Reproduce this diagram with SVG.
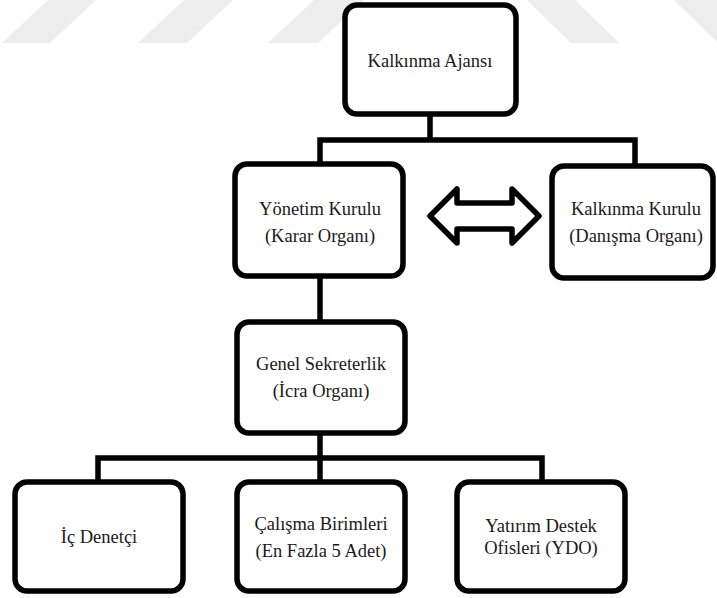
<svg xmlns="http://www.w3.org/2000/svg" width="717" height="598" viewBox="0 0 717 598">
<style>
.wm{fill:#ededed;stroke:none}
.box{fill:#fff;stroke:#000;stroke-width:5.5}
.con{fill:none;stroke:#000;stroke-width:5.5;stroke-linejoin:miter}
.t{font-family:"Liberation Serif","Times New Roman",serif;font-size:18.5px;fill:#1a1a1a;text-anchor:middle}
</style>
<rect width="717" height="598" fill="#fff"/>
<g id="watermark">
<polygon class="wm" points="2,43 50,43 96,0 48,0"/>
<polygon class="wm" points="138,43 187,43 233,0 184,0"/>
<polygon class="wm" points="268,43 318,43 364,0 314,0"/>
<polygon class="wm" points="527,0 575,0 619,43 571,43"/>
<polygon class="wm" points="674,0 722,0 766,43 718,43"/>
</g>
<g id="connectors">
<path class="con" d="M430,114 V140 M320,164 V140 H635 V166"/>
<path class="con" d="M320,276 V322"/>
<path class="con" d="M320,433 V482 M98,482 V458 H542 V482"/>
<polygon class="box" stroke-linejoin="round" points="430,216 457,189 457,203 512,203 512,189 539,216 512,243 512,229 457,229 457,243"/>
</g>
<g id="kalkinma-ajansi">
<rect class="box" x="345" y="5" width="171" height="109" rx="12"/>
<text class="t" x="430" y="67">Kalkınma Ajansı</text>
</g>
<g id="yonetim-kurulu">
<rect class="box" x="235" y="164" width="168" height="112" rx="12"/>
<text class="t" x="320" y="215">Yönetim Kurulu</text>
<text class="t" x="320" y="242">(Karar Organı)</text>
</g>
<g id="kalkinma-kurulu">
<rect class="box" x="552" y="166" width="161" height="112" rx="12"/>
<text class="t" x="636" y="215">Kalkınma Kurulu</text>
<text class="t" x="636" y="242">(Danışma Organı)</text>
</g>
<g id="genel-sekreterlik">
<rect class="box" x="237" y="322" width="168" height="111" rx="12"/>
<text class="t" x="321" y="370">Genel Sekreterlik</text>
<text class="t" x="321" y="397">(İcra Organı)</text>
</g>
<g id="ic-denetci">
<rect class="box" x="15" y="482" width="168" height="109" rx="12"/>
<text class="t" x="99" y="543">İç Denetçi</text>
</g>
<g id="calisma-birimleri">
<rect class="box" x="237" y="482" width="168" height="109" rx="12"/>
<text class="t" x="321" y="530">Çalışma Birimleri</text>
<text class="t" x="321" y="557">(En Fazla 5 Adet)</text>
</g>
<g id="yatirim-destek">
<rect class="box" x="457" y="482" width="168" height="109" rx="12"/>
<text class="t" x="541" y="532">Yatırım Destek</text>
<text class="t" x="541" y="554">Ofisleri (YDO)</text>
</g>
</svg>
